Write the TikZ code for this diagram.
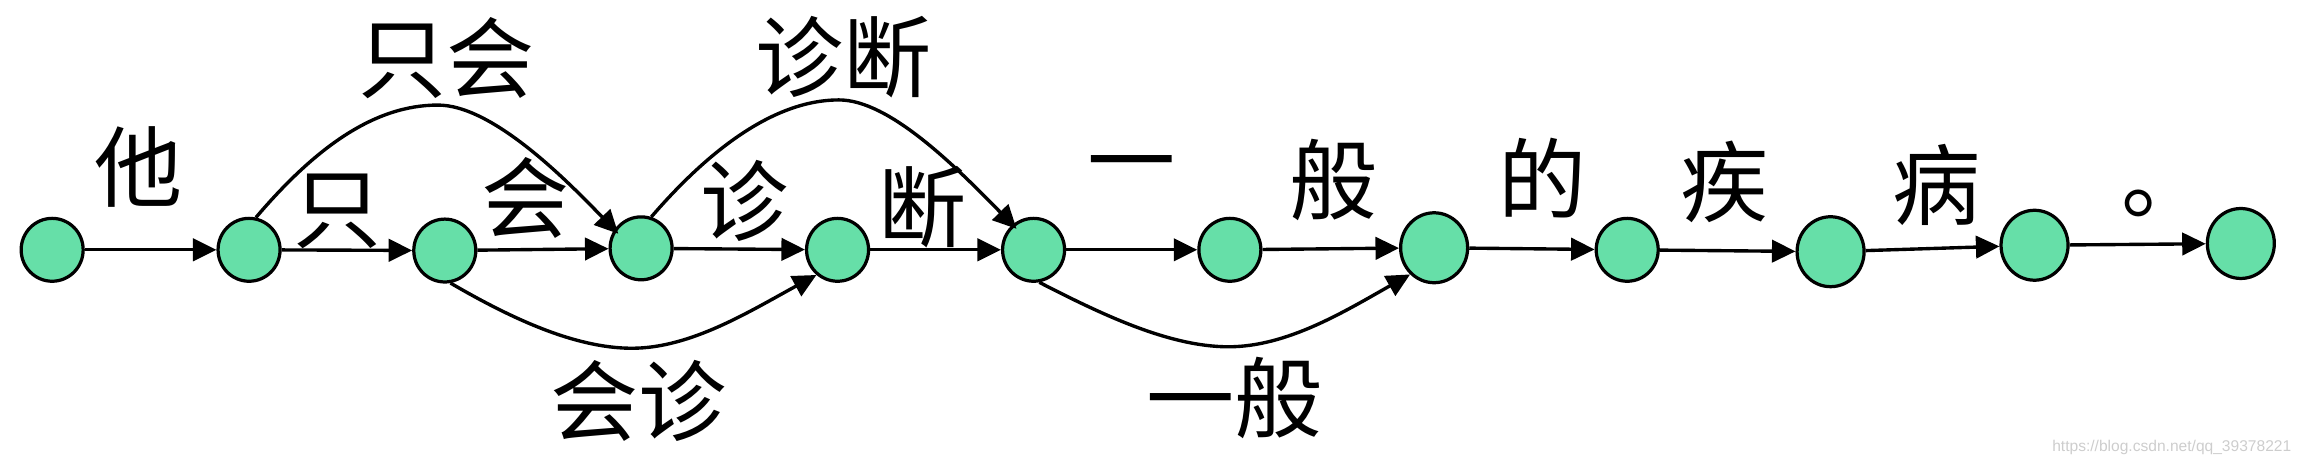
\documentclass[tikz,border=0pt]{standalone}
\usepackage{fontspec}
\newfontfamily\cjk{Noto Sans CJK SC}
\newfontfamily\wmfont{Liberation Sans}
\usetikzlibrary{arrows.meta,shapes.geometric}
\definecolor{nodegreen}{RGB}{102,223,168}
\definecolor{wmgray}{RGB}{205,205,205}
\begin{document}
\begin{tikzpicture}[x=0.5pt,y=-0.5pt,
  st/.style={ellipse,draw,line width=1.1pt,fill=nodegreen,inner sep=0pt,
             minimum width=21.1pt,minimum height=21.4pt},
  stb/.style={st,minimum width=22.8pt,minimum height=23.8pt},
  arr/.style={draw,line width=1.15pt,-{Triangle[length=8pt,width=7.6pt]}},
  lab/.style={font=\cjk\fontsize{30}{30}\selectfont,inner sep=0pt},
  wm/.style={font=\wmfont\fontsize{5.3}{5.3}\selectfont,text=wmgray,inner sep=0pt}]
\useasboundingbox (0,0) rectangle (1568,317);
% states
\node[st]  (n0)  at (35.5,170)   {};
\node[st]  (n1)  at (169.5,170)  {};
\node[st]  (n2)  at (302.7,170.5) {};
\node[st]  (n3)  at (436.3,169)  {};
\node[st]  (n4)  at (570,170)    {};
\node[st]  (n5)  at (703.4,170)  {};
\node[st]  (n6)  at (837,170)    {};
\node[stb] (n7)  at (976,168.6)  {};
\node[st]  (n8)  at (1107.4,170) {};
\node[stb] (n9)  at (1245.8,171.3) {};
\node[stb] (n10) at (1384.6,166.9) {};
\node[stb] (n11) at (1525,165.7) {};
% straight edges
\draw[arr] (n0) -- (n1);
\draw[arr] (n1) -- (n2);
\draw[arr] (n2) -- (n3);
\draw[arr] (n3) -- (n4);
\draw[arr] (n4) -- (n5);
\draw[arr] (n5) -- (n6);
\draw[arr] (n6) -- (n7);
\draw[arr] (n7) -- (n8);
\draw[arr] (n8) -- (n9);
\draw[arr] (n9) -- (n10);
\draw[arr] (n10) -- (n11);
% curved edges
\coordinate (p1) at (298,71.5);
\coordinate (p2) at (571,68);
\coordinate (p3) at (430,237);
\coordinate (p4) at (836,236);
\draw[arr,shorten >=-2pt] (n1.78) .. controls (215,100) and (255,71.5) .. (p1)
   .. controls (335,71.5) and (385,122) .. (n3.145);
\draw[arr,shorten >=-2pt] (n3.72) .. controls (480,105) and (525,68) .. (p2)
   .. controls (605,68) and (650,113) .. (n5.130);
\draw[arr] (n2.-80) .. controls (345,215) and (390,237) .. (p3)
   .. controls (470,237) and (510,212) .. (n4.230);
\draw[arr] (n5.-80) .. controls (748,213) and (795,236) .. (p4)
   .. controls (876,236) and (915,212) .. (n7.228);
% labels
\node[lab] (l0)  at (94,113.8)   {他};
\node[lab] (l1)  at (304,39.7)   {只会};
\node[lab] (l2)  at (229.7,143.7) {只};
\node[lab] (l3)  at (358,135)    {会};
\node[lab] (l4)  at (434.7,273)  {会诊};
\node[lab] (l5)  at (507,137)    {诊};
\node[lab] (l6)  at (574,39)     {诊断};
\node[lab] (l7)  at (627.7,141)  {断};
\node[lab] (l8)  at (770,118.5)  {一};
\node[lab] (l9)  at (907.7,122.5) {般};
\node[lab] (l10) at (840.4,271)  {一般};
\node[lab] (l11) at (1050,121)   {的};
\node[lab] (l12) at (1173.7,123.5) {疾};
\node[lab] (l13) at (1318,126)   {病};
\node[lab] (l14) at (1474,138.6) {。};
\node[wm]  (w)   at (1478,304.6) {https://blog.csdn.net/qq\_39378221};
\end{tikzpicture}
\end{document}
